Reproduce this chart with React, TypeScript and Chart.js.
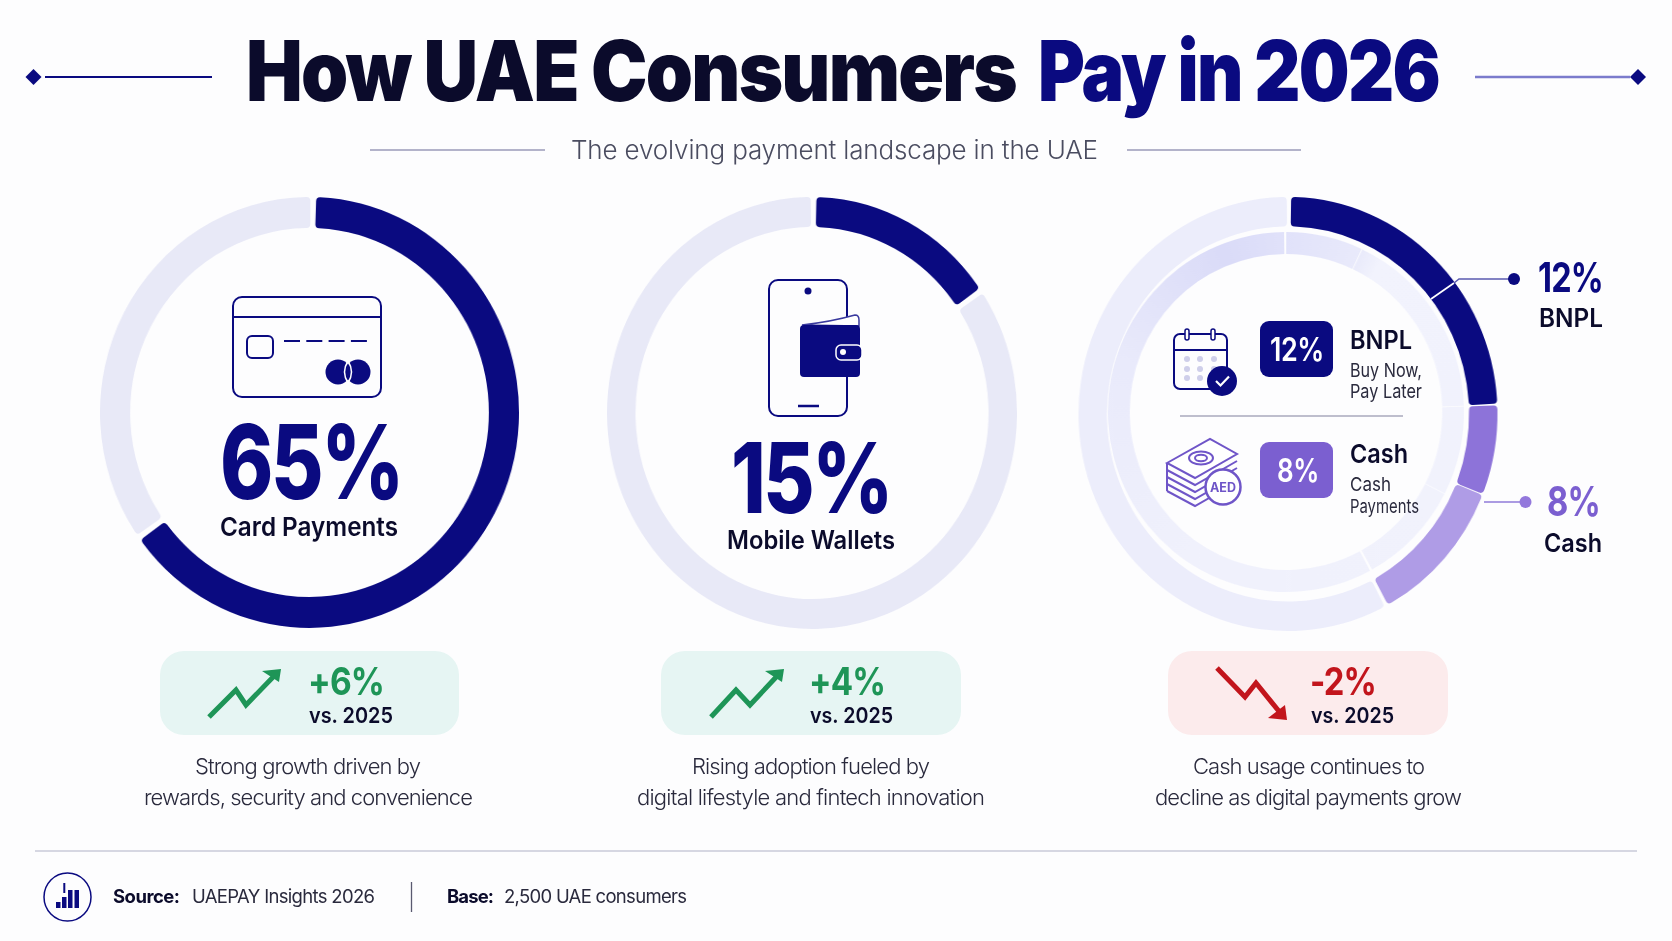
import React, { useEffect, useRef } from "react";
import { Chart } from "chart.js/auto";

// clockwise from the top
const cardShare = [65, 35];
const walletShare = [15, 85];
const outerMixShare = [24.2, 6.7, 11.1, 58];
const innerMixShare = [7, 17.5, 8, 9.5, 58];

const cardLabel = "Card Payments";
const walletLabel = "Mobile Wallets";
const bnplShare = 12;
const cashShare = 8;
const changeLabels = ["+6%", "+4%", "-2%"];

const NAVY = "#0A0A80";
const INK = "#0B0B2B";
const GREEN = "#1E9557";
const RED = "#C2151C";
const PURPLE = "#7B5FD0";
const TRACK = "#E8E9F7";
const FONT = "Inter, 'Noto Sans', sans-serif";

interface RingProps {
  cx: number;
  cy: number;
  rx: number;
  ry: number;
  thickness: number;
  values: number[];
  colors: any;
  gap: number;
  corner: number;
  rotation?: number;
}

const Ring: React.FC<RingProps> = ({ cx, cy, rx, ry, thickness, values, colors, gap, corner, rotation = 0 }) => {
  const canvasRef = useRef<HTMLCanvasElement | null>(null);
  const size = Math.ceil(ry * 2 + 6);

  useEffect(() => {
    if (!canvasRef.current) return;
    // chart.js pushes arcs outwards by half the spacing, so take that off here
    const radius = ry - gap / 2;
    const chart = new Chart(canvasRef.current, {
      type: "doughnut",
      data: {
        labels: values.map((_, i) => String(i)),
        datasets: [
          {
            data: values,
            backgroundColor: colors,
            borderWidth: 0,
            borderRadius: corner,
            spacing: gap,
          },
        ],
      },
      options: {
        responsive: false,
        animation: false,
        events: [],
        radius,
        rotation,
        cutout: `${((ry - thickness - gap / 2) / radius) * 100}%`,
        layout: { padding: 0 },
        plugins: { legend: { display: false }, tooltip: { enabled: false } },
      },
    });
    return () => chart.destroy();
  }, []);

  return (
    <div
      style={{
        position: "absolute",
        left: cx - size / 2,
        top: cy - size / 2,
        width: size,
        height: size,
        transform: `scaleX(${rx / ry})`,
      }}
    >
      <canvas ref={canvasRef} width={size} height={size} style={{ display: "block" }} />
    </div>
  );
};

// soft lavender sweep on the inner ring, darkest just left of the top
const innerSweep = (ctx: any) => {
  const chart = ctx.chart;
  const c = chart.width / 2;
  const g = chart.ctx.createConicGradient(-Math.PI / 2, c, c);
  g.addColorStop(0, "#E1E2FA");
  g.addColorStop(0.07, "#E9EAFB");
  g.addColorStop(0.09, "#F2F3FD");
  g.addColorStop(0.6, "#F0F1FC");
  g.addColorStop(0.8, "#E9EAFB");
  g.addColorStop(0.94, "#DADBF8");
  g.addColorStop(1, "#E1E2FA");
  return g;
};

interface TxtProps {
  x: number;
  y: number;
  size: number;
  w: number;
  len: number;
  color?: string;
  track?: number;
  children: React.ReactNode;
}

// track set: tracked in a bit, then the glyphs are squeezed to the length
const Txt: React.FC<TxtProps> = ({ x, y, size, w, len, color = INK, track, children }) => (
  <text
    x={x}
    y={y}
    fontSize={size}
    fontWeight={w}
    fill={color}
    fontFamily={FONT}
    textLength={len}
    lengthAdjust={track === undefined ? "spacing" : "spacingAndGlyphs"}
    letterSpacing={track}
  >
    {children}
  </text>
);

const Diamond = ({ x, y }: { x: number; y: number }) => (
  <polygon points={`${x - 8},${y} ${x},${y - 8} ${x + 8},${y} ${x},${y + 8}`} fill={NAVY} />
);

const CardIcon = () => (
  <g fill="none" stroke={NAVY} strokeWidth={2}>
    <rect x={233} y={297} width={148} height={100} rx={9} />
    <line x1={233} y1={317} x2={381} y2={317} />
    <rect x={247} y={336} width={26} height={22} rx={5} />
    <line x1={284} y1={341} x2={367} y2={341} strokeDasharray="16 6.3" />
    <circle cx={338} cy={372} r={12.5} fill={NAVY} stroke="none" />
    <circle cx={358} cy={372} r={12.5} fill={NAVY} stroke="none" />
    <path d="M348 361 Q355 372 348 383 Q341 372 348 361" stroke="#fff" strokeWidth={1.5} />
  </g>
);

const PhoneIcon = () => (
  <g>
    <rect x={769} y={280} width={78} height={136} rx={9} fill="none" stroke={NAVY} strokeWidth={2} />
    <circle cx={808} cy={291} r={3.5} fill={NAVY} />
    <line x1={798} y1={406} x2={819} y2={406} stroke={NAVY} strokeWidth={2.5} />
    <path d="M802 325 Q830 322 855 315 Q859 315 859 320 L859 326 Z" fill="#fff" stroke="#3A3A9E" strokeWidth={1.5} />
    <rect x={800} y={325} width={60} height={52} rx={4} fill={NAVY} />
    <rect x={836} y={345} width={26} height={15} rx={5} fill={NAVY} stroke="#fff" strokeWidth={1.5} />
    <circle cx={843} cy={352} r={3} fill="#fff" />
  </g>
);

const CalendarIcon = () => (
  <g>
    <rect x={1174} y={334} width={53} height={55} rx={6} fill="none" stroke={NAVY} strokeWidth={2} />
    <line x1={1174} y1={350} x2={1227} y2={350} stroke={NAVY} strokeWidth={2} />
    <rect x={1185} y={329} width={4} height={11} rx={2} fill="#fff" stroke={NAVY} strokeWidth={1.5} />
    <rect x={1211} y={329} width={4} height={11} rx={2} fill="#fff" stroke={NAVY} strokeWidth={1.5} />
    {[359, 369, 378].map((y) =>
      [1187, 1200, 1214].map((x) => <circle key={`${x}-${y}`} cx={x} cy={y} r={3} fill="#CFCFEA" />)
    )}
    <circle cx={1222} cy={381} r={15} fill={NAVY} />
    <path d="M1216 381 L1220.5 385.5 L1229 376.5" fill="none" stroke="#fff" strokeWidth={2.2} />
  </g>
);

const MoneyIcon = () => (
  <g fill="none" stroke="#6F55C8" strokeWidth={2}>
    {[28, 21, 14, 7].map((d) => (
      <path key={d} d={`M1167 ${463 + d} L1195 ${478 + d} L1237 ${454 + d}`} />
    ))}
    <line x1={1167} y1={463} x2={1167} y2={491} />
    <polygon points="1167,463 1210,439 1237,454 1195,478" fill="#fff" />
    <ellipse cx={1201} cy={458} rx={12} ry={6.5} />
    <ellipse cx={1201} cy={458} rx={6} ry={3.2} />
    <circle cx={1223} cy={487} r={17.5} fill="#fff" strokeWidth={2.5} />
    <text x={1223} y={491.5} fontSize={12.5} fontWeight={700} fill="#6F55C8" stroke="none" textAnchor="middle" fontFamily={FONT}>
      AED
    </text>
  </g>
);

const ChangeArrow = ({ line, head, color }: { line: string; head: string; color: string }) => (
  <g>
    <polyline points={line} fill="none" stroke={color} strokeWidth={5} />
    <polygon points={head} fill={color} />
  </g>
);

const App: React.FC = () => {
  return (
    <div
      style={{
        position: "absolute",
        left: 0,
        top: 0,
        width: 1672,
        height: 941,
        overflow: "hidden",
        background: "#FDFDFE",
      }}
    >
      <Ring cx={309.5} cy={412.5} rx={209.5} ry={215.5} thickness={31} values={cardShare} colors={[NAVY, TRACK]} gap={3.5} corner={4} rotation={0.8} />
      <Ring cx={812} cy={413} rx={205} ry={216} thickness={30} values={walletShare} colors={[NAVY, TRACK]} gap={3.5} corner={4} rotation={1} />
      <Ring
        cx={1288}
        cy={414}
        rx={209.5}
        ry={217}
        thickness={29.5}
        values={outerMixShare}
        colors={[NAVY, "#8D73D9", "#AF9CE6", "#ECEDFB"]}
        gap={3.2}
        corner={4}
        rotation={0.5}
      />
      <Ring cx={1286} cy={412} rx={178} ry={180} thickness={22} values={innerMixShare} colors={innerSweep} gap={2} corner={0} />

      <svg width={1672} height={941} style={{ position: "absolute", left: 0, top: 0 }}>
        {/* header */}
        <Diamond x={33.5} y={77} />
        <line x1={45} y1={77} x2={212} y2={77} stroke={NAVY} strokeWidth={2} />
        <line x1={1475} y1={77} x2={1630} y2={77} stroke="#7B7BCC" strokeWidth={2.5} />
        <Diamond x={1638} y={77} />
        <Txt x={246} y={101} size={84} w={900} len={770} track={-2}>How UAE Consumers</Txt>
        <Txt x={1038} y={101} size={84} w={900} len={401} track={-2} color={NAVY}>Pay in 2026</Txt>
        <line x1={370} y1={150} x2={545} y2={150} stroke="#9A9AB8" strokeWidth={1.5} />
        <line x1={1127} y1={150} x2={1301} y2={150} stroke="#9A9AB8" strokeWidth={1.5} />
        <Txt x={571} y={159} size={26} w={300} len={527} color="#4A4C60">The evolving payment landscape in the UAE</Txt>

        {/* card payments */}
        <CardIcon />
        <Txt x={220} y={499} size={103} w={800} len={182} track={-3} color={NAVY}>{cardShare[0]}%</Txt>
        <Txt x={220} y={536} size={26} w={600} len={178} track={0}>{cardLabel}</Txt>

        {/* mobile wallets */}
        <PhoneIcon />
        <Txt x={731} y={513} size={98} w={800} len={160} track={-3} color={NAVY}>{walletShare[0]}%</Txt>
        <Txt x={727} y={549} size={25} w={600} len={168} track={0}>{walletLabel}</Txt>

        {/* bnpl and cash */}
        <line x1={1431} y1={299} x2={1454} y2={283} stroke="#fff" strokeWidth={1.6} />
        <polyline points="1454,283 1459,279 1514,279" fill="none" stroke="#5A5AB0" strokeWidth={1.5} />
        <circle cx={1514} cy={279} r={6} fill={NAVY} />
        <line x1={1484} y1={502} x2={1525} y2={502} stroke="#8F7AD8" strokeWidth={1.5} />
        <circle cx={1525.5} cy={502} r={6} fill="#9378DC" />
        <Txt x={1538} y={292} size={41} w={700} len={65} track={-1} color={NAVY}>{bnplShare}%</Txt>
        <Txt x={1539} y={327} size={25} w={600} len={64} track={0}>BNPL</Txt>
        <Txt x={1547} y={516} size={41} w={700} len={53} track={-1} color={PURPLE}>{cashShare}%</Txt>
        <Txt x={1544} y={552} size={25} w={600} len={58} track={0}>Cash</Txt>

        <CalendarIcon />
        <rect x={1260} y={321} width={73} height={56} rx={9} fill={NAVY} />
        <Txt x={1270} y={361} size={33} w={600} len={54} track={-0.5} color="#fff">{bnplShare}%</Txt>
        <Txt x={1350} y={349} size={26} w={600} len={62} track={0}>BNPL</Txt>
        <Txt x={1350} y={377} size={19} w={400} len={72} track={0} color="#2A2A3D">Buy Now,</Txt>
        <Txt x={1350} y={398} size={19} w={400} len={72} track={0} color="#2A2A3D">Pay Later</Txt>
        <line x1={1180} y1={416} x2={1403} y2={416} stroke="#A9A9BC" strokeWidth={1.5} />
        <MoneyIcon />
        <rect x={1260} y={442} width={73} height={56} rx={9} fill={PURPLE} />
        <Txt x={1277} y={482} size={33} w={600} len={42} track={-0.5} color="#fff">{cashShare}%</Txt>
        <Txt x={1350} y={463} size={26} w={600} len={58} track={0}>Cash</Txt>
        <Txt x={1350} y={491} size={19} w={400} len={41} track={0} color="#2A2A3D">Cash</Txt>
        <Txt x={1350} y={513} size={19} w={400} len={69} track={0} color="#2A2A3D">Payments</Txt>

        {/* year on year badges */}
        <rect x={160} y={651} width={299} height={84} rx={24} fill="#E6F5F3" />
        <ChangeArrow line="209,717 236,690 246,705 276,674" head="281,669 262,671 279,682" color={GREEN} />
        <Txt x={308} y={695} size={38} w={700} len={76} track={-1} color={GREEN}>{changeLabels[0]}</Txt>
        <Txt x={309} y={723} size={22} w={600} len={84} track={0}>vs. 2025</Txt>

        <rect x={661} y={651} width={300} height={84} rx={24} fill="#E6F5F3" />
        <ChangeArrow line="711,717 736,690 750,705 779,674" head="784,669 765,671 782,682" color={GREEN} />
        <Txt x={809} y={695} size={38} w={700} len={76} track={-1} color={GREEN}>{changeLabels[1]}</Txt>
        <Txt x={810} y={723} size={22} w={600} len={83} track={0}>vs. 2025</Txt>

        <rect x={1168} y={651} width={280} height={84} rx={24} fill="#FCEBEC" />
        <ChangeArrow line="1217,668 1245,697 1256,683 1282,715" head="1287,720 1268,718 1285,705" color={RED} />
        <Txt x={1310} y={695} size={38} w={700} len={66} track={-1} color={RED}>{changeLabels[2]}</Txt>
        <Txt x={1311} y={723} size={22} w={600} len={83} track={0}>vs. 2025</Txt>

        <Txt x={195} y={774} size={22} w={300} len={226} color="#2A2A3D">Strong growth driven by</Txt>
        <Txt x={144} y={805} size={22} w={300} len={329} color="#2A2A3D">rewards, security and convenience</Txt>
        <Txt x={692} y={774} size={22} w={300} len={238} color="#2A2A3D">Rising adoption fueled by</Txt>
        <Txt x={637} y={805} size={22} w={300} len={348} color="#2A2A3D">digital lifestyle and fintech innovation</Txt>
        <Txt x={1193} y={774} size={22} w={300} len={232} color="#2A2A3D">Cash usage continues to</Txt>
        <Txt x={1155} y={805} size={22} w={300} len={307} color="#2A2A3D">decline as digital payments grow</Txt>

        {/* footer */}
        <line x1={35} y1={851} x2={1637} y2={851} stroke="#C9CAD8" strokeWidth={1.5} />
        <ellipse cx={67.5} cy={897} rx={23.5} ry={24} fill="none" stroke={NAVY} strokeWidth={1.5} />
        <rect x={56} y={902} width={4.5} height={6} fill={NAVY} />
        <rect x={62} y={897} width={4.5} height={11} fill={NAVY} />
        <rect x={68} y={890} width={4.5} height={18} fill={NAVY} />
        <rect x={74.5} y={890} width={4.5} height={18} fill={NAVY} />
        <line x1={64.3} y1={883} x2={64.3} y2={893} stroke={NAVY} strokeWidth={2} />
        <Txt x={113} y={903} size={18.5} w={700} len={67}>Source:</Txt>
        <Txt x={192} y={903} size={18.5} w={400} len={183} color="#2A2A3D">UAEPAY Insights 2026</Txt>
        <line x1={411.5} y1={882} x2={411.5} y2={912} stroke="#5A5A70" strokeWidth={1.3} />
        <Txt x={447} y={903} size={18.5} w={700} len={47}>Base:</Txt>
        <Txt x={504} y={903} size={18.5} w={400} len={183} color="#2A2A3D">2,500 UAE consumers</Txt>
      </svg>
    </div>
  );
};

export default App;
